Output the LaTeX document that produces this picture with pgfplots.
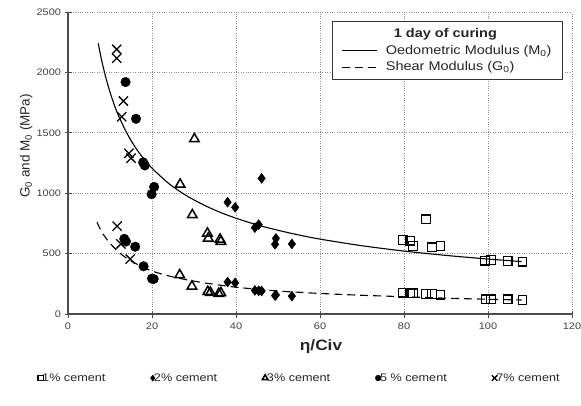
\documentclass[border=0pt]{standalone}
\usepackage{pgfplots}
\pgfplotsset{compat=1.18}
\usepackage{fontspec}
\setmainfont{Liberation Sans}[FakeStretch=1.15]
\newfontfamily\ylabfont{Liberation Sans}

\pgfplotstableread{
x y
7.2 2241
8 2102
9 1958
10 1837
11 1733
12 1644
14 1498
16 1381
18 1286
20 1207
24 1080
28 984
32 908
36 845
40 793
45 738
50 693
55 654
60 620
70 565
80 521
90 485
100 455
108 434
}\oedo

\pgfplotstableread{
x y
6.9 760
8 680
9 630
10 585
12 515
14 460
16 420
18 385
20 355
24 315
28 285
32 260
36 240
40 222
45 205
50 190
55 180
60 170
70 155
80 143
90 131
100 122
108 116
}\shear

\pgfplotstableread{
x y
79.7 613
81.4 607
82.1 563
85.2 784
86.7 552
88.7 563
99.3 441
100.7 447
104.7 439
108.2 433
79.7 175
81.4 175
82.1 172
85.2 166
86.7 166
88.7 160
99.4 121
100.7 121
104.7 121
108.2 116
}\cemA

\pgfplotstableread{
x y
38.0 925
39.8 883
44.5 715
45.4 740
46.1 1123
49.3 577
49.5 626
53.3 580
38.0 265
39.8 258
44.5 195
45.4 192
46.1 190
49.3 152
49.5 158
53.3 148
}\cemB

\pgfplotstableread{
x y
30.1 1449
26.7 1073
29.6 820
33.2 668
33.4 627
36.2 618
36.4 600
26.6 323
29.5 229
33.3 185
33.9 178
35.9 168
36.4 175
}\cemC

\pgfplotstableread{
x y
13.7 1920
16.2 1616
17.9 1255
18.3 1230
20.5 1052
19.9 992
13.4 622
13.8 600
16.0 557
18.0 395
20.0 293
20.4 290
}\cemE

\pgfplotstableread{
x y
11.6 2191
11.6 2117
13.2 1763
12.8 1633
14.5 1330
15.0 1290
11.7 728
12.6 580
14.8 455
}\cemG

\begin{document}
\begin{tikzpicture}
\path[use as bounding box] (0,0) rectangle (581pt,405pt);
\pgfplotsset{
  base/.style={scale only axis, width=504pt, height=302pt,
    at={(68pt,91pt)}, anchor=south west,
    xmin=0, xmax=120, ymin=0, ymax=2500},
}
\begin{axis}[base,
  axis x line*=bottom, axis y line*=left,
  axis line style={black!70, line width=1.1pt},
  xtick={0,20,...,120}, ytick={0,500,...,2500},
  grid=major, major grid style={dotted, black!45, line width=0.9pt},
  tick align=center, major tick length=7pt,
  tick style={black!70, line width=1pt},
  /pgf/number format/assume math mode=true,
  /pgf/number format/1000 sep={},
  tick label style={font=\fontsize{9.5}{11}\selectfont, text=black!75},
  xticklabel style={yshift=-1.5pt},
  xlabel={\textbf{η/Civ}},
  xlabel style={at={(axis description cs:0.502,-0.109)}, anchor=center,
    font=\fontsize{15}{17}\selectfont, text=black!85},
  ylabel={G\textsubscript{0} and M\textsubscript{0} (MPa)},
  ylabel style={at={(axis description cs:-0.083,0.556)}, anchor=center,
    font=\ylabfont\fontsize{13.5}{15}\selectfont, text=black!85},
  legend style={at={(0.982,0.970)}, anchor=north east, draw=black!80,
    line width=1pt, font=\fontsize{12.6}{14}\selectfont, text=black!85,
    inner xsep=9pt, inner ysep=5pt, row sep=2pt, cells={anchor=west},
    /tikz/every odd column/.append style={column sep=6pt}},
  legend image code/.code={\draw[#1] (0pt,0pt) -- (35pt,0pt);},
]
\addlegendimage{empty legend}
\addlegendentry{\hspace*{8pt}\fontsize{12.6}{15}\selectfont\bfseries 1 day of curing}
\addplot[black, line width=1.1pt, smooth] table {\oedo};
\addlegendentry{Oedometric Modulus (M\textsubscript{0})}
\addplot[black, line width=1.1pt, dash pattern=on 8pt off 5pt, smooth] table {\shear};
\addlegendentry{Shear Modulus (G\textsubscript{0})}
\end{axis}

\begin{axis}[base, hide axis,
  legend style={at={(0.46,-0.212)}, anchor=center, draw=none, fill=none,
    legend columns=5, font=\fontsize{11}{13}\selectfont, text=black!85,
    /tikz/every even column/.append style={column sep=43pt},
    /tikz/every odd column/.append style={column sep=-3pt}},
  legend image code/.code={\draw[#1, every mark/.append style={scale=0.6}] plot coordinates {(0pt,0pt)};},
]
\addplot[only marks, black, mark=square, mark size=4.3pt, mark options={line width=1.2pt}] table {\cemA};
\addlegendentry{1\% cement}
\addplot[only marks, black, mark=diamond*, mark size=5pt] table {\cemB};
\addlegendentry{2\% cement}
\addplot[only marks, black, mark=triangle, mark size=5.5pt, mark options={line width=1.5pt}] table {\cemC};
\addlegendentry{3\% cement}
\addplot[only marks, black, mark=*, mark size=4.8pt] table {\cemE};
\addlegendentry{5 \% cement}
\addplot[only marks, black, mark=x, mark size=6.5pt, mark options={line width=1.3pt}] table {\cemG};
\addlegendentry{7\% cement}
\end{axis}
\end{tikzpicture}
\end{document}
